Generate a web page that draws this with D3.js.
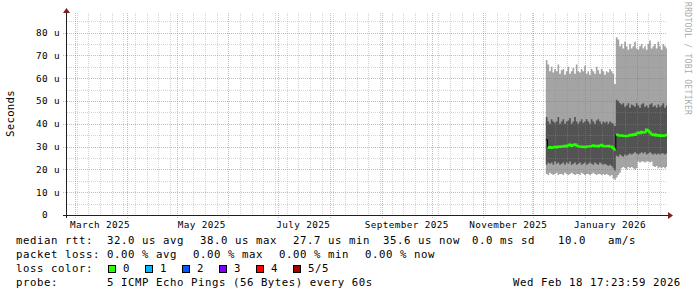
<!DOCTYPE html>
<meta charset="utf-8">
<style>
  body { margin: 0; background: #fff; }
  svg { display: block; }
  text { font-family: "DejaVu Sans Mono", monospace; fill: #000; }
</style>

<svg width="697" height="297"></svg>

<script src="https://d3js.org/d3.v7.min.js"></script>
<script>

// one sample per day, first one on 8 Dec 2025 12:00 (values in microseconds)
// the probe host changed on 19 Jan 2026, so there are two runs
var minRtt = [18, 17.5, 18.5, 18, 17.5, 18, 18.5, 17.5, 18, 18, 17.5, 18.5, 18, 17.5, 18, 18.5, 18, 17.5, 18, 18, 17.5, 18.5, 18, 17.5, 18, 18, 17.5, 18, 18.5, 18, 17.5, 18, 18, 17.5, 18, 17.5, 18, 17.5, 17, 17.5, 16, 15.5,
              16.5, 17.5, 18.5, 20.5, 21, 20.5, 20, 21, 20.5, 21, 20.5, 20, 20.5, 23.5, 23, 23.5, 23.5, 23, 23.5, 23.5, 23, 23.5, 21.5, 21, 21.5, 20.5, 21, 20.5, 21, 20.5, 21];
var ping2  = [22, 23, 22.5, 23, 22, 23.5, 22.5, 23, 22, 22.5, 23, 22, 23, 22.5, 23.5, 22, 22.5, 23, 22, 22.5, 23, 22, 22.5, 23, 22, 22.5, 23, 22.5, 22, 23, 22.5, 22, 23, 22.5, 22, 22.5, 22, 21.5, 22, 21.5, 20.5, 19.5,
              26, 25.5, 26.5, 26, 25.5, 26.5, 26, 26.5, 27, 26.5, 27, 27.5, 27, 26.5, 27, 27.5, 27, 27.5, 26.5, 27, 27.5, 27, 26.5, 27, 26.5, 27, 26.5, 27, 27, 26.5, 27];
var medRtt = [33, 29.5, 29.8, 29.4, 29.7, 29.9, 29.6, 30.0, 29.8, 30.2, 29.9, 30.4, 30.1, 30.6, 30.9, 30.3, 30.7, 31.0, 30.5, 30.2, 30.0, 29.8, 30.1, 29.7, 29.9, 30.2, 30.0, 30.3, 30.6, 30.2, 30.4, 30.1, 30.5, 30.8, 30.3, 30.0, 30.2, 30.4, 29.9, 30.1, 29.3, 28.6,
              35.3, 35.0, 34.8, 35.0, 34.6, 34.8, 34.5, 34.8, 35.2, 34.9, 35.4, 35.1, 35.8, 36.2, 35.9, 36.5, 36.1, 36.3, 37.5, 37.0, 36.2, 35.4, 35.0, 35.4, 34.8, 35.1, 34.7, 35.0, 34.6, 34.9, 35.2];
var ping4  = [43, 41, 40, 42, 41, 40.5, 41, 43, 40, 41, 42, 40, 41, 41.5, 42.5, 40, 41, 43, 41, 40, 41, 42, 40.5, 41, 42, 41, 40, 42, 41, 40, 41.5, 42, 41, 40, 41, 40.5, 41, 40, 41, 40.5, 40, 39,
              50.5, 50, 49, 48.5, 49, 47.5, 48, 49, 47, 48.5, 48, 47.5, 49, 48, 47, 48.5, 49, 47.5, 48, 47, 48.5, 49, 47.5, 48, 47, 48.5, 47.5, 48, 49, 47, 48];
var maxRtt = [68, 66, 63, 65, 62.5, 64, 63, 66, 62, 63.5, 64, 61.5, 63, 65, 62, 63, 64.5, 62, 66, 63, 62.5, 64, 63, 65.5, 62, 63, 61.5, 64, 63, 62, 65, 63.5, 62, 64, 63, 61.5, 63, 62.5, 64, 63, 62, 57.5,
              78, 77, 74, 75, 73, 76, 74, 72.5, 75, 73, 74, 76, 73, 72.5, 74, 75, 73, 74, 72.5, 75, 76.5, 73, 74, 75, 73, 76, 74, 72.5, 75, 74, 73];
var runs = [[1, 42], [42, 73]];

var yTicks = [0, 10, 20, 30, 40, 50, 60, 70, 80];

var lossColors = ["#26ff00", "#00b8ff", "#0059ff", "#7e00ff", "#ff0000", "#a10000"];
var lossLabels = ["0", "1", "2", "3", "4", "5/5"];

var rttLegend  = ["32.0 us avg", "38.0 us max", "27.7 us min", "35.6 us now", "0.0 ms sd", "10.0", "am/s"];
var lossLegend = ["0.00 % avg", "0.00 % max", "0.00 % min", "0.00 % now"];
var probeText = "5 ICMP Echo Pings (56 Bytes) every 60s";
var stampText = "Wed Feb 18 17:23:59 2026";


var svg = d3.select("svg");
var plotL = 67, plotR = 667, plotT = 13, plotB = 215;

var t0 = new Date(2025, 1, 24, 4, 48), t1 = new Date(2026, 1, 19, 4, 48);
var x = d3.scaleTime().domain([t0, t1]).range([plotL, plotR]);
var y = d3.scaleLinear().domain([0, 88.6]).range([plotB, plotT]);

var firstDay = new Date(2025, 11, 8, 12);
var rows = medRtt.map(function(m, i) {
  return { t: d3.timeDay.offset(firstDay, i), lo: minRtt[i], p2: ping2[i], med: m, p4: ping4[i], hi: maxRtt[i] };
});
function closed(a, b) {
  var pts = rows.slice(a, b);
  var end = b < rows.length ? rows[b].t : t1;
  return pts.concat([Object.assign({}, pts[pts.length - 1], { t: end })]);
}
var all = closed(0, rows.length);

// smoke
function band(k0, k1) {
  return d3.area().curve(d3.curveStepAfter)
    .x(function(d) { return x(d.t); })
    .y0(function(d) { return y(d[k0]); })
    .y1(function(d) { return y(d[k1]); });
}
svg.append("path").datum(all).attr("d", band("lo", "hi")).attr("fill", "#a4a4a4");
svg.append("path").datum(all).attr("d", band("p2", "p4")).attr("fill", "#535353");

// grid
var grid = svg.append("g").attr("stroke-dasharray", "1,1").attr("stroke-width", 1);
var months = d3.timeMonth.range(t0, t1);
var monthKeys = months.map(function(d) { return +d; });
var weeks = d3.timeSunday.range(t0, t1).filter(function(d) { return monthKeys.indexOf(+d) < 0; });

grid.selectAll(".vmin").data(weeks).enter().append("line")
  .attr("x1", function(d) { return Math.round(x(d)) + 0.5; })
  .attr("x2", function(d) { return Math.round(x(d)) + 0.5; })
  .attr("y1", plotT).attr("y2", plotB)
  .attr("stroke", "#8f8f8f").attr("stroke-opacity", 0.38);

var hvals = d3.range(5, 88, 5);
grid.selectAll(".hmin").data(hvals.filter(function(v) { return v % 10; })).enter().append("line")
  .attr("x1", plotL).attr("x2", plotR)
  .attr("y1", function(d) { return Math.round(y(d)) + 0.5; })
  .attr("y2", function(d) { return Math.round(y(d)) + 0.5; })
  .attr("stroke", "#8f8f8f").attr("stroke-opacity", 0.38);

grid.selectAll(".vmaj").data(months).enter().append("line")
  .attr("x1", function(d) { return Math.round(x(d)) + 0.5; })
  .attr("x2", function(d) { return Math.round(x(d)) + 0.5; })
  .attr("y1", plotT).attr("y2", plotB + 3)
  .attr("stroke", "#de4f4f").attr("stroke-opacity", 0.48);

grid.selectAll(".hmaj").data(yTicks.filter(function(v) { return v > 0; })).enter().append("line")
  .attr("x1", plotL - 4).attr("x2", plotR)
  .attr("y1", function(d) { return Math.round(y(d)) + 0.5; })
  .attr("y2", function(d) { return Math.round(y(d)) + 0.5; })
  .attr("stroke", "#de4f4f").attr("stroke-opacity", 0.48);

// median
var medLine = d3.line().curve(d3.curveStepAfter)
  .x(function(d) { return x(d.t); })
  .y(function(d) { return y(d.med); });
svg.append("path").datum(all).attr("d", medLine)
  .attr("fill", "none").attr("stroke", "#000").attr("stroke-width", 1);
runs.forEach(function(r) {
  svg.append("path").datum(closed(r[0], r[1])).attr("d", medLine)
    .attr("fill", "none").attr("stroke", lossColors[0]).attr("stroke-width", 2);
});

// axes
svg.append("line").attr("x1", plotL - 0.5).attr("x2", plotL - 0.5).attr("y1", plotT).attr("y2", plotB + 3)
  .attr("stroke", "#1f1f1f");
svg.append("line").attr("x1", plotL - 4).attr("x2", plotR + 1).attr("y1", plotB + 0.5).attr("y2", plotB + 0.5)
  .attr("stroke", "#1f1f1f");
svg.append("path").attr("d", "M63,13L70,13L66.5,8Z").attr("fill", "#801f1f");
svg.append("path").attr("d", "M668,212L668,219L673,215.5Z").attr("fill", "#801f1f");

svg.append("g").selectAll("text").data(yTicks).enter().append("text")
  .attr("x", function(d) { return d === 0 ? 48 : 60; })
  .attr("y", function(d) { return y(d); })
  .attr("dy", "0.36em")
  .attr("text-anchor", "end")
  .style("font-size", "9.33px").style("letter-spacing", "0.38px")
  .text(function(d) { return d === 0 ? "0" : d + " u"; });

var fmt = d3.timeFormat("%B %Y");
svg.append("g").selectAll("text").data(d3.timeMonth.every(2).range(t0, t1)).enter().append("text")
  .attr("x", function(d) { return x(d3.timeDay.offset(d, 15)); })
  .attr("y", 228)
  .attr("text-anchor", "middle")
  .style("font-size", "9.33px").style("letter-spacing", "0.38px")
  .text(fmt);

svg.append("text")
  .attr("transform", "translate(14,113.5) rotate(-90)")
  .attr("text-anchor", "middle")
  .style("font-size", "10.7px").style("letter-spacing", "0.3px")
  .text("Seconds");

svg.append("text")
  .attr("transform", "translate(685,2) rotate(90)")
  .style("font-size", "8px").style("letter-spacing", "0.33px")
  .style("fill", "#aaaaaa")
  .text("RRDTOOL / TOBI OETIKER");

// legend
var legend = svg.append("g").style("font-size", "10.7px").style("letter-spacing", "0.56px");
function put(s, px, py) {
  legend.append("text").attr("x", px).attr("y", py).text(s);
}
var rttX = [107, 200, 293, 383, 472, 558, 608];
var lossX = [107, 193, 279, 365];

put("median rtt:", 16, 244);
rttLegend.forEach(function(s, i) { put(s, rttX[i], 244); });

put("packet loss:", 16, 258);
lossLegend.forEach(function(s, i) { put(s, lossX[i], 258); });

put("loss color:", 16, 272);
lossColors.forEach(function(c, i) {
  legend.append("rect").attr("x", 108.5 + i * 37).attr("y", 265.5).attr("width", 7).attr("height", 7)
    .attr("fill", c).attr("stroke", "#000");
  put(lossLabels[i], 123 + i * 37, 272);
});

put("probe:", 16, 286);
put(probeText, 107, 286);
put(stampText, 513, 286);

</script>
